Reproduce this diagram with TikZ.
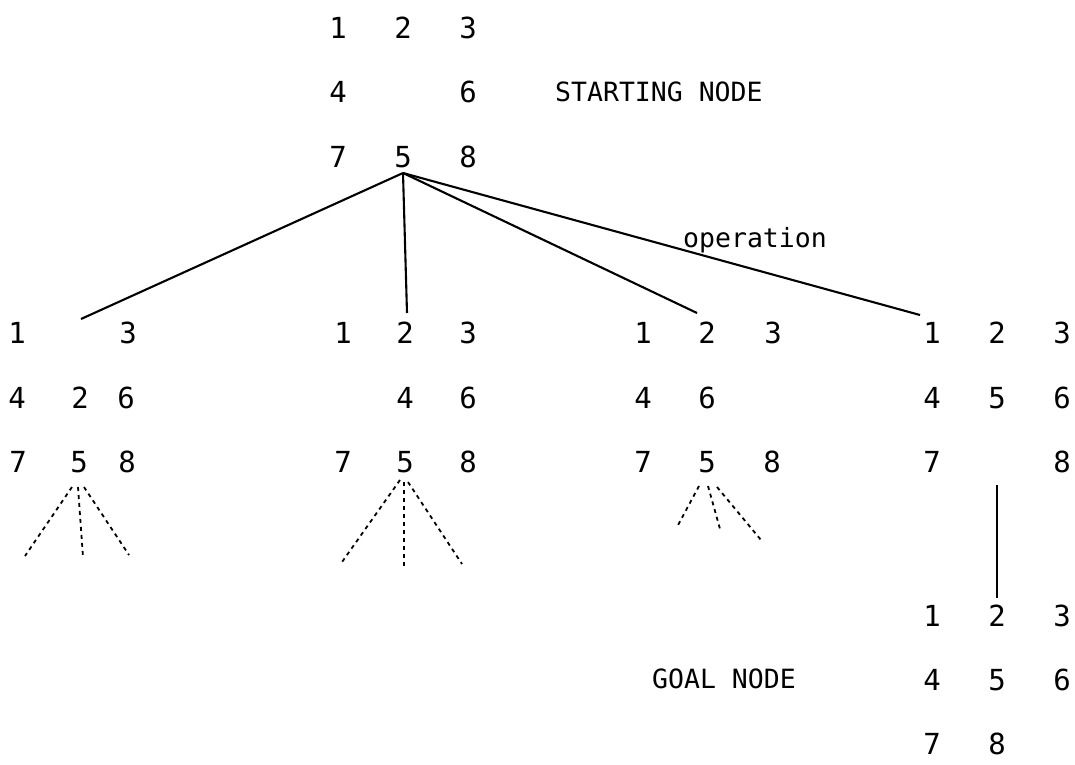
\documentclass[tikz,border=0pt]{standalone}
\usepackage{fontspec}
\setmonofont{DejaVu Sans Mono}
\begin{document}
\begin{tikzpicture}[x=1pt,y=-1pt,
  tile/.style={inner sep=0pt, font=\ttfamily\fontsize{29}{33}\selectfont},
  caption/.style={inner sep=0pt, font=\ttfamily\fontsize{26.5}{30}\selectfont},
  move/.style={line width=2.1pt},
  branch/.style={line width=1.8pt, dash pattern=on 4pt off 4pt}]
\useasboundingbox (0,0) rectangle (1075,764);

% starting board
\foreach \n/\x/\y/\t in {s1/338/28/1, s2/403/28/2, s3/468/28/3,
                         s4/338/92/4, s6/468/92/6,
                         s7/338/157/7, s5/403/157/5, s8/468/157/8}
  \node[tile] (\n) at (\x,\y) {\t};
\node[caption, anchor=west] (start) at (555,92) {STARTING NODE};

% first-level successors
\foreach \n/\x/\y/\t in {a1/17/333/1, a3/128/333/3,
                         a4/17/398/4, a2/80/398/2, a6/126/398/6,
                         a7/18/462/7, a5/79/462/5, a8/127/462/8}
  \node[tile] (\n) at (\x,\y) {\t};
\coordinate (ablank) at (80,333);

\foreach \n/\x/\y/\t in {b1/343/333/1, b2/405/333/2, b3/468/333/3,
                         b4/405/398/4, b6/468/398/6,
                         b7/343/462/7, b5/405/462/5, b8/468/462/8}
  \node[tile] (\n) at (\x,\y) {\t};

\foreach \n/\x/\y/\t in {c1/643/333/1, c2/707/333/2, c3/773/333/3,
                         c4/643/398/4, c6/707/398/6,
                         c7/643/462/7, c5/707/462/5, c8/772/462/8}
  \node[tile] (\n) at (\x,\y) {\t};

\foreach \n/\x/\y/\t in {d1/932/333/1, d2/997/333/2, d3/1062/333/3,
                         d4/932/398/4, d5/997/398/5, d6/1062/398/6,
                         d7/932/462/7, d8/1062/462/8}
  \node[tile] (\n) at (\x,\y) {\t};
\coordinate (dblank) at (997,462);

% goal board
\foreach \n/\x/\y/\t in {g1/932/616/1, g2/997/616/2, g3/1062/616/3,
                         g4/932/680/4, g5/997/680/5, g6/1062/680/6,
                         g7/932/744/7, g8/997/744/8}
  \node[tile] (\n) at (\x,\y) {\t};
\node[caption, anchor=west] (goal) at (652,679) {GOAL NODE};

% operations from the starting board
\coordinate (fork) at ([yshift=-16pt]s5.center);
\draw[move] (fork) -- ([xshift=1pt,yshift=14pt]ablank);
\draw[move] (fork) -- ([xshift=2pt,yshift=20pt]b2.center);
\draw[move] (fork) -- ([xshift=-10pt,yshift=20pt]c2.center);
\draw[move] (fork) -- ([xshift=-12pt,yshift=18pt]d1.center);
\node[caption, anchor=base west] (op) at (683,247) {operation};

% unexpanded branches
\coordinate (ae1) at (25,556);
\coordinate (ae2) at (83,557);
\coordinate (ae3) at (129,555);
\draw[branch] ([xshift=-7pt,yshift=-25pt]a5.center) -- (ae1);
\draw[branch] ([xshift=-1pt,yshift=-25pt]a5.center) -- (ae2);
\draw[branch] ([xshift=5pt,yshift=-25pt]a5.center) -- (ae3);

\coordinate (be1) at (342,562);
\coordinate (be2) at (404,566);
\coordinate (be3) at (462,564);
\draw[branch] ([xshift=-5pt,yshift=-18pt]b5.center) -- (be1);
\draw[branch] ([xshift=-1pt,yshift=-20pt]b5.center) -- (be2);
\draw[branch] ([xshift=3pt,yshift=-20pt]b5.center) -- (be3);

\coordinate (ce1) at (677,527);
\coordinate (ce2) at (720,529);
\coordinate (ce3) at (761,540);
\draw[branch] ([xshift=-8pt,yshift=-24pt]c5.center) -- (ce1);
\draw[branch] ([xshift=1pt,yshift=-24pt]c5.center) -- (ce2);
\draw[branch] ([xshift=10pt,yshift=-25pt]c5.center) -- (ce3);

% final move to the goal
\draw[move] ([yshift=-23pt]dblank) -- ([yshift=18pt]g2.center);
\end{tikzpicture}
\end{document}
